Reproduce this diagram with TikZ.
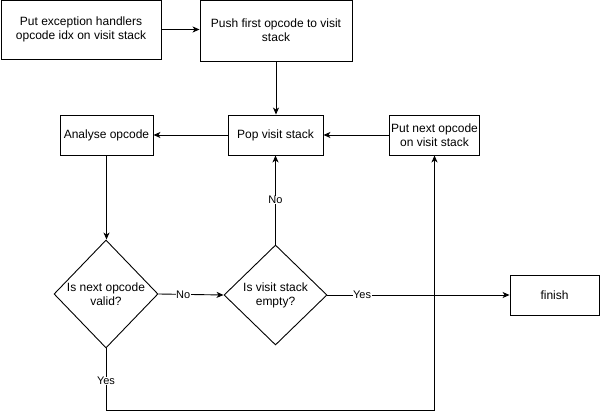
\documentclass[tikz,border=0pt]{standalone}
\usepackage{fontspec}
\setmainfont{Liberation Sans}
\usetikzlibrary{shapes.geometric,arrows.meta}
\begin{document}
\begin{tikzpicture}[x=1pt,y=-1pt,
  every node/.style={font=\fontsize{12}{14}\selectfont},
  box/.style={draw, line width=0.9pt, align=center, inner sep=1pt, anchor=center},
  dia/.style={draw, line width=0.9pt, diamond, inner sep=0pt, anchor=center},
  conn/.style={line width=0.9pt, -{Stealth[length=7pt,width=6pt,inset=2pt]}},
  lbl/.style={fill=white, inner sep=0.5pt, font=\fontsize{11}{13}\selectfont}]
\useasboundingbox (0,0) rectangle (602,419);
\node[box, minimum width=160pt, minimum height=59pt] (b1) at (81,29.5) {Put exception handlers\\opcode idx on visit stack};
\node[box, minimum width=152pt, minimum height=61pt] (b2) at (276,30.5) {Push first opcode to visit\\stack};
\node[box, minimum width=93pt, minimum height=40pt] (an) at (106.5,135) {Analyse opcode};
\node[box, minimum width=95pt, minimum height=40pt] (pop) at (275.5,135) {Pop visit stack};
\node[box, minimum width=90pt, minimum height=40pt] (pn) at (434.5,135) {Put next opcode\\on visit stack};
\node[box, minimum width=89pt, minimum height=40pt] (fin) at (554.5,295) {finish};
\node[dia, minimum width=104pt, minimum height=108pt, label={[align=center]center:Is next opcode\\valid?}] (d1) at (106,294) {};
\node[dia, minimum width=103pt, minimum height=100pt, label={[align=center]center:Is visit stack\\empty?}] (d2) at (275.5,295) {};
\coordinate (corner) at (106,410);
\draw[conn] (b1.east) -- (b1.east -| b2.west);
\draw[conn] (b2.south) -- (b2.south |- pop.north);
\draw[conn] (pop.west) -- (an.east);
\draw[conn] (pn.west) -- (pop.east);
\draw[conn] (an.south) -- (an.south |- d1.north);
\draw[conn] (d1.east) -- node[lbl, pos=0.38]{No} (d2.west);
\draw[conn] (d2.north) -- node[lbl, pos=0.5]{No} (pop.south);
\draw[conn] (d2.east) -- node[lbl, pos=0.19]{Yes} (fin.west);
\draw[conn] (d1.south) -- node[lbl, pos=0.53]{Yes} (corner) -| (pn.south);
\end{tikzpicture}
\end{document}
